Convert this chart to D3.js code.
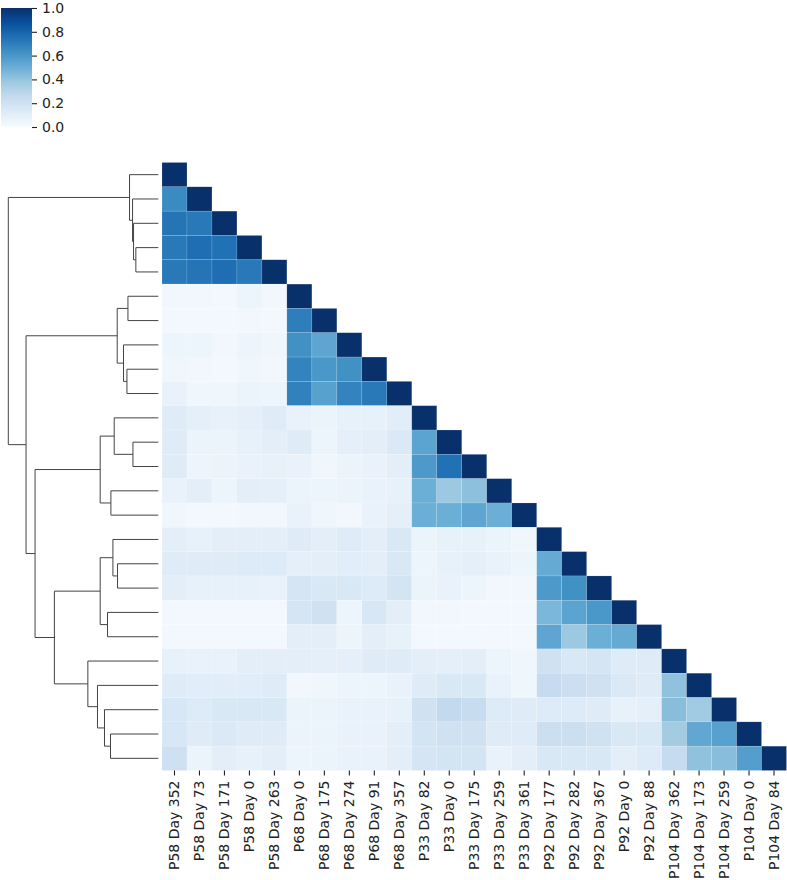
<!DOCTYPE html>
<html>
<head>
<meta charset="utf-8">
<script src="https://cdn.jsdelivr.net/npm/d3@7/dist/d3.min.js"></script>
<style>
  html, body { margin: 0; padding: 0; background: #fff; }
  svg { display: block; }
  text { font-family: "DejaVu Sans", sans-serif; fill: #222; }
</style>
</head>
<body>
<svg id="chart" width="787" height="880"></svg>
<script>
// ---- Data ----
const labels = [
  "P58 Day 352", "P58 Day 73", "P58 Day 171", "P58 Day 0", "P58 Day 263",
  "P68 Day 0", "P68 Day 175", "P68 Day 274", "P68 Day 91", "P68 Day 357",
  "P33 Day 82", "P33 Day 0", "P33 Day 175", "P33 Day 259", "P33 Day 361",
  "P92 Day 177", "P92 Day 282", "P92 Day 367", "P92 Day 0", "P92 Day 88",
  "P104 Day 362", "P104 Day 173", "P104 Day 259", "P104 Day 0", "P104 Day 84"
];

// lower-triangle correlation values, row i holds columns 0..i
const corrRows = [
  [1],
  [0.65, 1],
  [0.74, 0.72, 1],
  [0.72, 0.76, 0.75, 1],
  [0.72, 0.74, 0.76, 0.72, 1],
  [0.03, 0.03, 0.02, 0.05, 0.03, 1],
  [0.02, 0.02, 0.02, 0.03, 0.02, 0.70, 1],
  [0.05, 0.05, 0.03, 0.05, 0.04, 0.63, 0.54, 1],
  [0.04, 0.03, 0.02, 0.04, 0.03, 0.68, 0.60, 0.63, 1],
  [0.07, 0.04, 0.04, 0.06, 0.05, 0.69, 0.56, 0.68, 0.72, 1],
  [0.12, 0.09, 0.08, 0.09, 0.12, 0.07, 0.06, 0.08, 0.08, 0.11, 1],
  [0.12, 0.06, 0.06, 0.08, 0.10, 0.12, 0.05, 0.09, 0.10, 0.14, 0.55, 1],
  [0.12, 0.05, 0.06, 0.07, 0.08, 0.07, 0.04, 0.06, 0.07, 0.10, 0.59, 0.75, 1],
  [0.07, 0.10, 0.05, 0.10, 0.09, 0.06, 0.05, 0.06, 0.07, 0.08, 0.50, 0.38, 0.42, 1],
  [0.04, 0.02, 0.02, 0.03, 0.03, 0.07, 0.04, 0.03, 0.07, 0.09, 0.50, 0.50, 0.54, 0.50, 1],
  [0.10, 0.08, 0.10, 0.10, 0.10, 0.12, 0.10, 0.12, 0.10, 0.15, 0.06, 0.08, 0.08, 0.06, 0.04, 1],
  [0.12, 0.12, 0.12, 0.13, 0.13, 0.09, 0.10, 0.11, 0.10, 0.15, 0.05, 0.08, 0.09, 0.07, 0.05, 0.52, 1],
  [0.10, 0.08, 0.08, 0.08, 0.07, 0.17, 0.15, 0.15, 0.13, 0.18, 0.06, 0.07, 0.05, 0.03, 0.03, 0.59, 0.63, 1],
  [0.02, 0.02, 0.02, 0.02, 0.02, 0.17, 0.20, 0.05, 0.16, 0.10, 0.03, 0.03, 0.02, 0.02, 0.02, 0.46, 0.55, 0.60, 1],
  [0.02, 0.02, 0.02, 0.02, 0.02, 0.10, 0.10, 0.05, 0.10, 0.08, 0.02, 0.02, 0.02, 0.02, 0.02, 0.54, 0.38, 0.50, 0.52, 1],
  [0.08, 0.07, 0.07, 0.10, 0.10, 0.10, 0.09, 0.09, 0.12, 0.12, 0.10, 0.09, 0.10, 0.05, 0.04, 0.20, 0.15, 0.17, 0.12, 0.12, 1],
  [0.12, 0.11, 0.11, 0.11, 0.12, 0.03, 0.04, 0.05, 0.05, 0.07, 0.12, 0.15, 0.15, 0.07, 0.04, 0.25, 0.22, 0.20, 0.14, 0.12, 0.41, 1],
  [0.16, 0.13, 0.15, 0.15, 0.15, 0.06, 0.06, 0.07, 0.07, 0.08, 0.20, 0.26, 0.24, 0.13, 0.12, 0.13, 0.13, 0.12, 0.08, 0.09, 0.43, 0.37, 1],
  [0.16, 0.12, 0.14, 0.12, 0.12, 0.06, 0.06, 0.07, 0.07, 0.10, 0.18, 0.20, 0.20, 0.12, 0.12, 0.22, 0.22, 0.20, 0.15, 0.15, 0.36, 0.53, 0.56, 1],
  [0.21, 0.06, 0.10, 0.08, 0.10, 0.05, 0.06, 0.07, 0.07, 0.10, 0.17, 0.18, 0.18, 0.07, 0.10, 0.15, 0.15, 0.15, 0.10, 0.13, 0.25, 0.41, 0.43, 0.57, 1]
];

// hierarchical linkage (scipy style): [childA, childB, height]; new node ids start at 25
const linkage = [
  [3, 4, 22.4], [2, 25, 24.7], [1, 26, 25.7], [0, 27, 28.7],
  [11, 12, 25.3], [5, 6, 30.3], [8, 9, 31.3], [7, 31, 34.7], [30, 32, 41.0],
  [10, 29, 44.0], [13, 14, 47.3], [34, 35, 58.0],
  [16, 17, 40.7], [15, 37, 45.3], [18, 19, 50.7], [38, 39, 58.0],
  [23, 24, 47.7], [22, 41, 53.7], [21, 42, 60.7], [20, 43, 70.3],
  [40, 44, 103.7], [36, 45, 123.0], [33, 46, 132.0], [28, 47, 149.7]
];

const cbarTicks = [0.0, 0.2, 0.4, 0.6, 0.8, 1.0];
const bluesStops = ["#f7fbff", "#deebf7", "#c6dbef", "#9ecae1", "#6baed6", "#4292c6", "#2171b5", "#08519c", "#08306b"];

// ---- Layout ----
const svg = d3.select("#chart");
const hm = { left: 162, right: 786.5, top: 162.5, bottom: 770.5 };
const n = labels.length;

const xBand = d3.scaleBand().domain(d3.range(n)).range([hm.left, hm.right]).paddingInner(0).paddingOuter(0);
const yBand = d3.scaleBand().domain(d3.range(n)).range([hm.top, hm.bottom]).paddingInner(0).paddingOuter(0);

const color = d3.scaleLinear()
  .domain(d3.range(bluesStops.length).map(i => i / (bluesStops.length - 1)))
  .range(bluesStops)
  .interpolate(d3.interpolateRgb)
  .clamp(true);

// ---- Heatmap (lower triangle) ----
const cells = [];
corrRows.forEach((row, i) => row.forEach((v, j) => cells.push({ i, j, v })));

svg.append("g").selectAll("rect")
  .data(cells)
  .join("rect")
  .attr("x", d => xBand(d.j))
  .attr("y", d => yBand(d.i))
  .attr("width", xBand.bandwidth())
  .attr("height", yBand.bandwidth())
  .attr("fill", d => color(d.v))
  .attr("stroke", "rgba(255,255,255,0.25)")
  .attr("stroke-width", 0.5);

// ---- X axis ----
const xAxisG = svg.append("g").attr("transform", `translate(0,${hm.bottom})`);
const tickLen = 5;
xAxisG.selectAll("line")
  .data(d3.range(n))
  .join("line")
  .attr("x1", d => xBand(d) + xBand.bandwidth() / 2)
  .attr("x2", d => xBand(d) + xBand.bandwidth() / 2)
  .attr("y1", 0)
  .attr("y2", tickLen)
  .attr("stroke", "#222")
  .attr("stroke-width", 1.1);
xAxisG.selectAll("text")
  .data(d3.range(n))
  .join("text")
  .attr("transform", d => `translate(${xBand(d) + xBand.bandwidth() / 2},${tickLen + 5}) rotate(-90)`)
  .attr("text-anchor", "end")
  .attr("dy", "0.35em")
  .style("font-size", "14px")
  .text(d => labels[d]);

// ---- Dendrogram ----
const maxH = d3.max(linkage, d => d[2]);
const xDen = d3.scaleLinear().domain([0, maxH]).range([158.3, 8.3]);
const nodeY = {}, nodeH = {};
d3.range(n).forEach(i => { nodeY[i] = yBand(i) + yBand.bandwidth() / 2; nodeH[i] = 0; });
linkage.forEach((m, k) => {
  const id = n + k;
  nodeY[id] = (nodeY[m[0]] + nodeY[m[1]]) / 2;
  nodeH[id] = m[2];
});
const denPath = m => {
  const [a, b, h] = m;
  const p = d3.path();
  p.moveTo(xDen(nodeH[a]), nodeY[a]);
  p.lineTo(xDen(h), nodeY[a]);
  p.lineTo(xDen(h), nodeY[b]);
  p.lineTo(xDen(nodeH[b]), nodeY[b]);
  return p.toString();
};
svg.append("g").selectAll("path")
  .data(linkage)
  .join("path")
  .attr("d", denPath)
  .attr("fill", "none")
  .attr("stroke", "#444")
  .attr("stroke-width", 1);

// ---- Colorbar ----
const cb = { x: 1, y0: 8, y1: 127, w: 31 };
const defs = svg.append("defs");
const grad = defs.append("linearGradient").attr("id", "cbgrad")
  .attr("x1", "0").attr("y1", "1").attr("x2", "0").attr("y2", "0");
bluesStops.forEach((c, i) => grad.append("stop")
  .attr("offset", i / (bluesStops.length - 1)).attr("stop-color", c));
svg.append("rect")
  .attr("x", cb.x).attr("y", cb.y0)
  .attr("width", cb.w).attr("height", cb.y1 - cb.y0)
  .attr("fill", "url(#cbgrad)");
const cbScale = d3.scaleLinear().domain([0, 1]).range([cb.y1, cb.y0]);
const cbAxis = d3.axisRight(cbScale).tickValues(cbarTicks).tickFormat(d3.format(".1f"))
  .tickSize(5).tickPadding(5);
const cbG = svg.append("g").attr("transform", `translate(${cb.x + cb.w},0)`).call(cbAxis);
cbG.select(".domain").remove();
cbG.selectAll(".tick line").attr("stroke", "#222").attr("stroke-width", 1.1);
cbG.selectAll(".tick text").style("font-size", "14px").style("font-family", "DejaVu Sans, sans-serif").attr("fill", "#222");
</script>
</body>
</html>
